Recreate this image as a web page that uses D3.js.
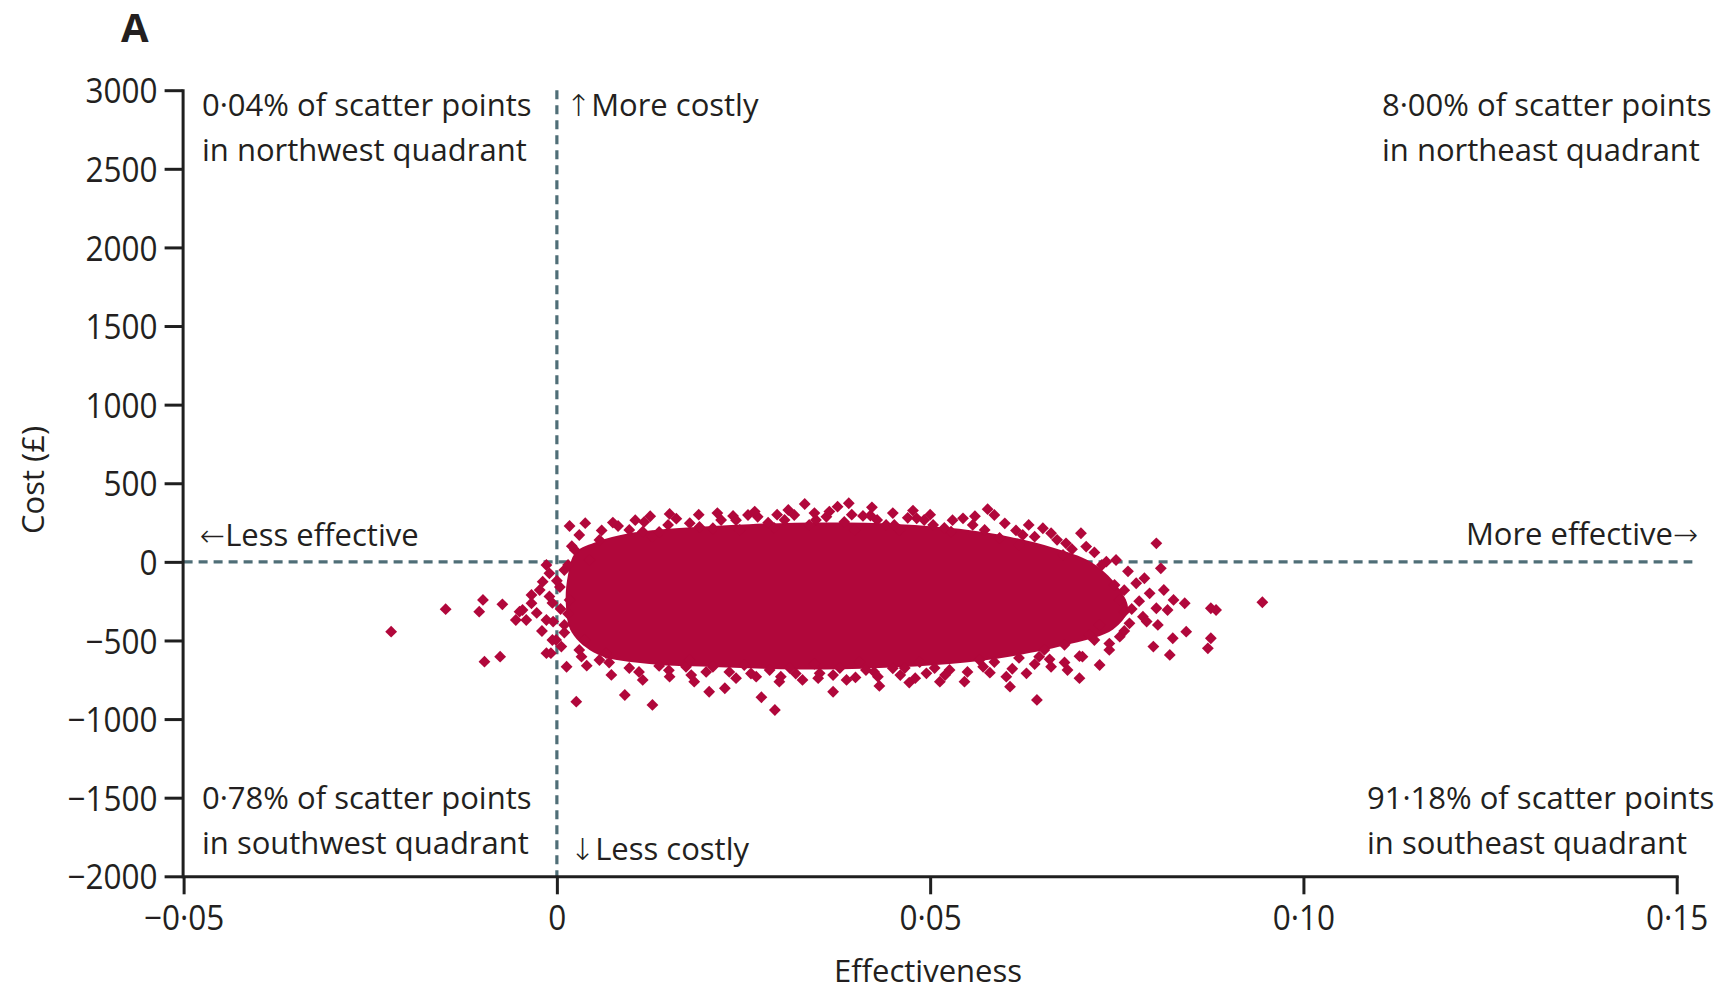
<!DOCTYPE html>
<html><head><meta charset="utf-8">
<script src="https://cdn.jsdelivr.net/npm/d3@7"></script>
<style>
body{margin:0;background:#fff}
svg{display:block}
text{font-family:"Open Sans",sans-serif;fill:#231f20}
</style>
</head><body>
<svg id="c" width="1724" height="992"></svg>
<script>
// ---------- data ----------
const xTicks = [-0.05, 0, 0.05, 0.10, 0.15];
const yTicks = [3000, 2500, 2000, 1500, 1000, 500, 0, -500, -1000, -1500, -2000];

// outline of the solid, fully overplotted core of the cloud (effectiveness, cost £)
const coreEffect = [0.0015,0.0025,0.0055,0.0095,0.0164,0.0258,0.0365,0.0459,0.0539,0.0606,0.0665,0.0715,0.0750,0.0765,0.0745,0.0690,0.0610,0.0526,0.0432,0.0325,0.0218,0.0124,0.0055,0.0020,0.0012];
const coreCost   = [-80,60,130,180,215,240,250,240,210,160,90,0,-150,-300,-430,-520,-600,-650,-675,-685,-670,-650,-590,-450,-270];

// individually visible scatter points (effectiveness)
const pointEffect = [
-0.0222,-0.0149,-0.0104,-0.0099,-0.0073,-0.0097,-0.0076,-0.0055,-0.0046,-0.0034,-0.0019,-0.0014,-0.0027,-0.0014,-0.0006,-0.0008,-0.0001,0.0013,0.0026,0.0073,0.0091,0.0128,0.0115,0.0151,0.0033,0.0017,0.0038,0.0030,0.0082,0.0024,0.0057,0.0151,0.0115,0.0128,0.0149,0.0004,-0.0006,0.0006,0.0066,-0.0014,-0.0034,-0.0050,-0.0041,-0.0023,-0.0010,0.0010,0.0017,0.0010,0.0037,0.0044,
0.0332,0.0376,0.0391,0.0422,0.0410,0.0477,0.0482,0.0544,0.0557,0.0236,0.0256,0.0269,0.0283,0.0318,0.0347,0.0361,0.0504,0.0178,0.0209,0.0441,0.0459,0.0528,
0.0292,0.0274,0.0370,0.0204,0.0184,0.0225,0.0298,0.0329,0.0388,0.0432,0.0472,0.0513,0.0546,0.0267,0.0352,0.0414,0.0495,0.0526,0.0173,0.0209,0.0450,
0.0577,0.0586,0.0632,0.0624,0.0651,0.0662,0.0702,0.0682,0.0709,0.0678,0.0749,0.0736,0.0803,0.0809,0.0787,0.0776,0.0794,0.0813,0.0826,0.0841,0.0803,0.0818,0.0785,0.0767,0.0805,0.0876,0.0883,0.0945,0.0843,0.0825,0.0876,0.0872,0.0799,0.0821,0.0754,0.0740,0.0727,0.0700,0.0684,0.0704,0.0662,0.0629,0.0602,0.0607,0.0643,0.0571,0.0646,0.0754,0.0760,0.0727,0.0747,0.0720,
0.0097,0.0117,0.0137,0.0191,0.0220,0.0245,0.0291,0.0305,0.0338,0.0385,0.0399,0.0429,0.0452,0.0492,0.0519,0.0573,0.0593,0.0619,
0.0057,0.0097,0.0137,0.0178,0.0231,0.0251,0.0285,0.0312,0.0345,0.0379,0.0405,0.0425,0.0466,0.0486,0.0506,0.0566,0.0586,0.0619,0.0653,0.0680,0.0713,
0.0060,0.0075,0.0105,0.0125,0.0160,0.0190,0.0215,0.0240,0.0265,0.0295,0.0310,0.0345,0.0365,0.0395,0.0420,0.0450,0.0470,0.0500,0.0530,0.0560,0.0600,0.0615,0.0640,0.0670,0.0690,0.0720,0.0730,0.0765,0.0760,0.0780,0.0770,0.0790,0.0760,0.0740,0.0700,0.0680,
0.0040,0.0070,0.0110,0.0150,0.0180,0.0200,0.0240,0.0260,0.0300,0.0320,0.0350,0.0370,0.0400,0.0430,0.0460,0.0480,0.0520,0.0550,0.0580,0.0610,0.0640,0.0660,
0.0005,-0.0005,0.0015,-0.0010,0.0000,0.0015,0.0010,0.0030,-0.0020,0.0020
];
// matching costs (£)
const pointCost = [
-444,-301,-317,-242,-270,-635,-603,-370,-306,-211,-126,-20,-325,-370,-261,-581,-497,-667,-889,-719,-847,-910,-751,-730,-603,228,246,171,228,76,139,305,192,160,235,-160,-497,-539,-581,-581,-263,-317,-370,-179,-73,-52,-242,-401,-497,12,
368,351,373,347,292,326,277,277,235,292,298,287,249,298,267,287,235,246,214,235,203,192,
-942,-861,-826,-826,-762,-804,-762,-751,-751,-789,-768,-762,-762,-730,-709,-688,-709,-688,-667,-667,-677,
335,298,235,171,214,182,182,118,97,44,12,1,118,-41,-104,-136,-200,-179,-242,-263,-295,-306,-349,-391,-401,-295,-306,-257,-444,-486,-486,-550,-539,-592,-476,-560,-656,-740,-688,-603,-667,-709,-730,-794,-878,-667,-603,-242,-318,-401,-147,-497,
203,254,190,222,266,203,216,266,235,254,203,266,235,266,216,203,152,107,
-624,-675,-662,-624,-700,-656,-688,-675,-649,-675,-637,-700,-675,-637,-675,-624,-637,-611,-560,-528,-464,
200,250,265,290,275,300,310,265,320,300,330,310,320,300,295,310,280,300,265,290,245,200,160,140,80,60,-20,-60,-180,-250,-300,-380,-440,-520,-600,-640,
-660,-640,-700,-690,-720,-700,-740,-710,-730,-710,-740,-720,-735,-730,-720,-740,-720,-700,-705,-680,-650,-620,
-300,-380,-330,-220,-120,-20,-450,-560,-440,100
];

const quadrantText = [
  ["0·04% of scatter points", "in northwest quadrant"],
  ["8·00% of scatter points", "in northeast quadrant"],
  ["0·78% of scatter points", "in southwest quadrant"],
  ["91·18% of scatter points", "in southeast quadrant"]
];
// [arrow, words, arrow placed before words?]
const directionText = [["↑", "More costly", true], ["↓", "Less costly", true], ["←", "Less effective", true], ["→", "More effective", false]];
const panelLabel = "A";
const xTitle = "Effectiveness";
const yTitle = "Cost (£)";

// ---------- chart ----------
const svg = d3.select("#c");
const x = d3.scaleLinear().domain([-0.05, 0.15]).range([183.6, 1676.7]);
const y = d3.scaleLinear().domain([-2000, 3000]).range([876.3, 90.2]);

const red = "#b1073b";
const dashCol = "#4f6e77";
const axisCol = "#1f1f1f";

// reference lines
svg.append("line")
  .attr("x1", x(0)).attr("x2", x(0)).attr("y1", y(3000)).attr("y2", y(-2000))
  .attr("stroke", dashCol).attr("stroke-width", 3.2).attr("stroke-dasharray", "9,6");
svg.append("line")
  .attr("x1", x(-0.05)).attr("x2", x(0.1521)).attr("y1", y(0)).attr("y2", y(0))
  .attr("stroke", dashCol).attr("stroke-width", 3.2).attr("stroke-dasharray", "9,6");

// dense core
const core = coreEffect.map((e, i) => [e, coreCost[i]]);
svg.append("path")
  .attr("d", d3.line().x(d => x(d[0])).y(d => y(d[1])).curve(d3.curveCatmullRomClosed)(core))
  .attr("fill", red);

// points
const pts = pointEffect.map((e, i) => [e, pointCost[i]]);
const sym = d3.symbol(d3.symbolSquare, 70);
svg.append("g").selectAll("path").data(pts).join("path")
  .attr("d", sym)
  .attr("transform", d => `translate(${x(d[0])},${y(d[1])}) rotate(45)`)
  .attr("fill", red);

// axes
const fx = d => d === 0 ? "0" : d3.format(".2f")(d).replace(".", "·");
const xAxis = svg.append("g").attr("transform", `translate(0,${y(-2000)})`)
  .call(d3.axisBottom(x).tickValues(xTicks).tickSize(18).tickSizeOuter(0).tickFormat(fx));
const yAxis = svg.append("g").attr("transform", `translate(${x(-0.05) - 1},0)`)
  .call(d3.axisLeft(y).tickValues(yTicks).tickSize(18).tickSizeOuter(0).tickFormat(d3.format("d")));

[xAxis, yAxis].forEach(a => {
  a.select(".domain").attr("stroke", axisCol).attr("stroke-width", 3).attr("stroke-linecap", "square");
  a.selectAll(".tick line").attr("stroke", axisCol).attr("stroke-width", 3);
  a.selectAll(".tick text").attr("fill", "#231f20").style("font-family", '"Open Sans",sans-serif').attr("font-size", 35);
});
xAxis.selectAll(".tick text").attr("y", 0).attr("dy", 0).attr("transform", "translate(0,54) scale(0.9,1)");
yAxis.selectAll(".tick text").attr("x", 0).attr("dy", "0.36em").attr("transform", "translate(-25,0) scale(0.9,1)");

// texts
function txt(str, tx, ty, anchor, size, weight) {
  return svg.append("text").attr("x", tx).attr("y", ty)
    .attr("text-anchor", anchor || "start").attr("font-size", size || 31)
    .attr("font-weight", weight || 400).text(str);
}
txt(panelLabel, 121, 42, "start", 40, 700);

const qx = [202, 1382, 202, 1367];
const qy = [115.5, 115.5, 809, 809];
quadrantText.forEach((lines, i) => {
  txt(lines[0], qx[i], qy[i]);
  txt(lines[1], qx[i], qy[i] + 45);
});

function arrowText(item, tx, ty, anchor) {
  const t = svg.append("text").attr("x", tx).attr("y", ty)
    .attr("text-anchor", anchor).attr("font-size", 31);
  const addArrow = () => t.append("tspan").style("font-family", '"DejaVu Sans",sans-serif')
    .attr("font-size", 30).attr("font-weight", 300).text(item[0]);
  if (item[2]) { addArrow(); t.append("tspan").text(item[1]); }
  else { t.append("tspan").text(item[1]); addArrow(); }
}
arrowText(directionText[0], 566, 115.5, "start");
arrowText(directionText[1], 570, 860, "start");
arrowText(directionText[2], 200, 546, "start");
arrowText(directionText[3], 1698, 545, "end");

txt(xTitle, 928, 982, "middle");
svg.append("text").attr("transform", "translate(44,480) rotate(-90)")
  .attr("text-anchor", "middle").attr("font-size", 31).text(yTitle);
</script>
</body></html>
